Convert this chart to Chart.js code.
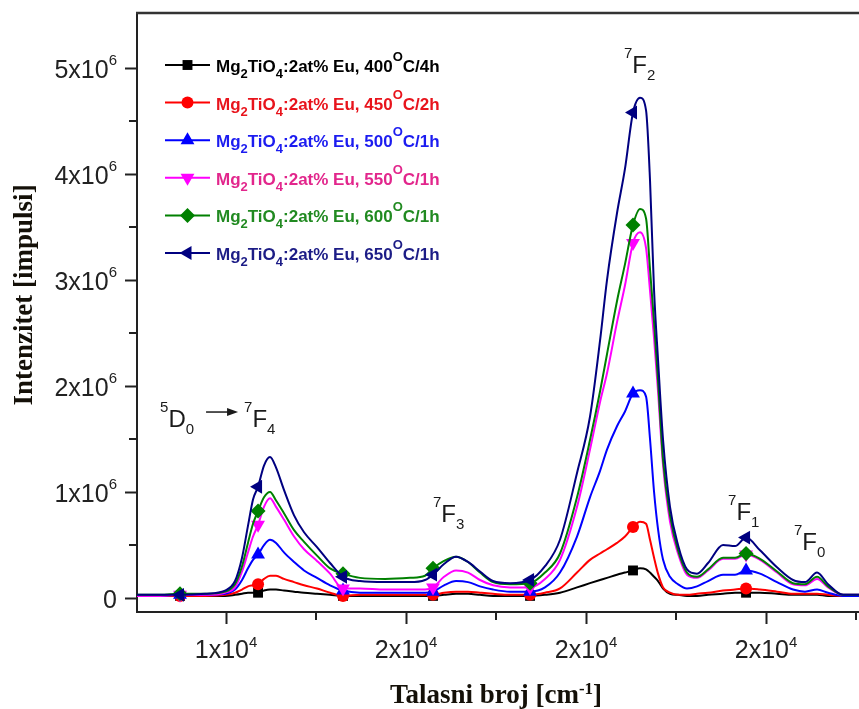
<!DOCTYPE html>
<html>
<head>
<meta charset="utf-8">
<script src="https://cdn.jsdelivr.net/npm/chart.js@4.4.1/dist/chart.umd.min.js"></script>
<style>
  html, body { margin: 0; padding: 0; background: #fff; }
  #wrap { width: 859px; height: 709px; }
</style>
</head>
<body>
<div id="wrap"><canvas id="spectrum"></canvas></div>
<script>
// wavenumber of each sample point [cm-1]
const wavenumber = [13011, 13267, 13489, 13767, 13989, 14100, 14178, 14244, 14300, 14356,
  14422, 14489, 14556, 14644, 14756, 14867, 15011, 15156, 15300, 15489,
  15767, 16044, 16211, 16300, 16422, 16556, 16689, 16822, 16967, 17156,
  17378, 17544, 17711, 17900, 18044, 18156, 18233, 18344, 18433, 18522,
  18600, 18667, 18711, 18756, 18800, 18856, 18933, 19022, 19122, 19233,
  19356, 19522, 19656, 19778, 19933, 20122, 20300, 20433, 20567, 20689,
  20856, 21033];

// intensities, in units of 10^6 counts
const s400 = [0.02, 0.02, 0.02, 0.02, 0.02, 0.03, 0.04, 0.05, 0.05, 0.05,
  0.07, 0.08, 0.08, 0.07, 0.06, 0.05, 0.04, 0.03, 0.02, 0.02,
  0.02, 0.02, 0.02, 0.02, 0.03, 0.04, 0.04, 0.03, 0.02, 0.02,
  0.02, 0.03, 0.05, 0.10, 0.14, 0.17, 0.19, 0.22, 0.24, 0.26,
  0.28, 0.27, 0.24, 0.20, 0.16, 0.09, 0.04, 0.03, 0.02, 0.02,
  0.03, 0.04, 0.05, 0.05, 0.05, 0.04, 0.03, 0.03, 0.03, 0.02,
  0.02, 0.02];
const s450 = [0.02, 0.02, 0.02, 0.02, 0.03, 0.05, 0.08, 0.11, 0.12, 0.13,
  0.18, 0.21, 0.21, 0.18, 0.15, 0.12, 0.09, 0.05, 0.02, 0.03,
  0.03, 0.03, 0.03, 0.03, 0.05, 0.06, 0.06, 0.05, 0.04, 0.03,
  0.03, 0.05, 0.09, 0.24, 0.36, 0.42, 0.46, 0.52, 0.58, 0.67,
  0.72, 0.70, 0.55, 0.38, 0.23, 0.10, 0.05, 0.03, 0.03, 0.04,
  0.05, 0.07, 0.08, 0.09, 0.08, 0.06, 0.04, 0.04, 0.04, 0.03,
  0.02, 0.02];
const s500 = [0.02, 0.02, 0.03, 0.03, 0.04, 0.08, 0.17, 0.28, 0.36, 0.41,
  0.50, 0.55, 0.52, 0.43, 0.34, 0.26, 0.19, 0.12, 0.07, 0.05,
  0.05, 0.05, 0.05, 0.06, 0.12, 0.16, 0.15, 0.11, 0.08, 0.06,
  0.06, 0.10, 0.24, 0.58, 0.95, 1.20, 1.40, 1.62, 1.76, 1.93,
  1.96, 1.90, 1.50, 1.00, 0.65, 0.36, 0.20, 0.13, 0.09, 0.11,
  0.16, 0.22, 0.22, 0.26, 0.23, 0.15, 0.08, 0.06, 0.08, 0.05,
  0.02, 0.02];
const s550 = [0.02, 0.02, 0.03, 0.03, 0.05, 0.10, 0.25, 0.43, 0.58, 0.69,
  0.86, 0.94, 0.86, 0.74, 0.58, 0.46, 0.35, 0.23, 0.09, 0.09,
  0.08, 0.08, 0.08, 0.10, 0.20, 0.26, 0.24, 0.17, 0.12, 0.10,
  0.10, 0.18, 0.36, 0.86, 1.40, 1.85, 2.12, 2.60, 2.95, 3.35,
  3.45, 3.30, 2.90, 2.45, 1.95, 1.25, 0.72, 0.42, 0.22, 0.19,
  0.26, 0.37, 0.37, 0.41, 0.36, 0.24, 0.13, 0.12, 0.18, 0.10,
  0.03, 0.03];
const s600 = [0.03, 0.03, 0.04, 0.04, 0.06, 0.13, 0.30, 0.52, 0.70, 0.82,
  0.95, 1.00, 0.92, 0.80, 0.64, 0.53, 0.40, 0.28, 0.23, 0.19,
  0.18, 0.19, 0.21, 0.28, 0.35, 0.39, 0.34, 0.24, 0.15, 0.13,
  0.14, 0.24, 0.42, 0.95, 1.49, 1.95, 2.30, 2.80, 3.15, 3.52,
  3.67, 3.58, 3.10, 2.60, 2.05, 1.30, 0.78, 0.45, 0.24, 0.20,
  0.27, 0.38, 0.38, 0.42, 0.37, 0.25, 0.14, 0.13, 0.20, 0.11,
  0.03, 0.03];
const s650 = [0.03, 0.03, 0.03, 0.04, 0.07, 0.16, 0.38, 0.68, 0.93, 1.05,
  1.25, 1.33, 1.23, 1.02, 0.78, 0.62, 0.48, 0.33, 0.20, 0.16,
  0.15, 0.15, 0.17, 0.22, 0.32, 0.39, 0.34, 0.25, 0.16, 0.14,
  0.17, 0.30, 0.55, 1.18, 1.71, 2.43, 3.00, 3.63, 4.05, 4.58,
  4.72, 4.60, 3.94, 2.90, 2.25, 1.49, 0.86, 0.50, 0.27, 0.23,
  0.33, 0.50, 0.49, 0.57, 0.45, 0.29, 0.17, 0.15, 0.24, 0.13,
  0.03, 0.03];

// which sample points carry a symbol
const markerIdx = [2, 9, 18, 23, 30, 39, 53];

// _x = subscript, ^x = superscript, {..} groups several chars
const seriesNames = [
  "Mg_2TiO_4:2at% Eu, 400^OC/4h",
  "Mg_2TiO_4:2at% Eu, 450^OC/2h",
  "Mg_2TiO_4:2at% Eu, 500^OC/1h",
  "Mg_2TiO_4:2at% Eu, 550^OC/1h",
  "Mg_2TiO_4:2at% Eu, 600^OC/1h",
  "Mg_2TiO_4:2at% Eu, 650^OC/1h"
];
const seriesValues = [s400, s450, s500, s550, s600, s650];

const xMajorTicks = [14000, 16000, 18000, 20000];
const xTickLabels = ["1x10^4", "2x10^4", "2x10^4", "2x10^4"];
const xMinorTicks = [15000, 17000, 19000, 21000];
const yMajorTicks = [0, 1, 2, 3, 4, 5];
const yTickLabels = ["0", "1x10^6", "2x10^6", "3x10^6", "4x10^6", "5x10^6"];
const yMinorTicks = [0.5, 1.5, 2.5, 3.5, 4.5];

// transition labels, anchored (left, baseline) in data units
const peakLabels = [
  { x: 13267, y: 1.613, text: "^5D_0->^7F_4" },
  { x: 16300, y: 0.717, text: "^7F_3" },
  { x: 18422, y: 4.953, text: "^7F_2" },
  { x: 19578, y: 0.736, text: "^7F_1" },
  { x: 20311, y: 0.453, text: "^7F_0" }
];

const xTitle = "Talasni broj [cm^{-1}]";
const yTitle = "Intenzitet [impulsi]";

// styling
const lineColors = ["#000000", "#ff0000", "#0000ff", "#ff00ff", "#008000", "#000080"];
const textColors = ["#000000", "#e8141c", "#1c1cf0", "#e2268c", "#218a21", "#1c1c86"];
const pointStyles = ["rect", "circle", "triangle", "triangle", "rectRot", "triangle"];
const pointRotations = [0, 0, 0, 180, 0, -90];
const pointSizes = [7, 6, 8, 8, 7.5, 8];
const AXIS = "#222";
const SANS = '"Liberation Sans", Arial, sans-serif';
const SERIF = '"Liberation Serif", "Times New Roman", serif';

function parseRich(str) {
  const parts = [];
  const re = /->|([_^])\{([^}]*)\}|([_^])(.)|([^_^\-]+|-)/g;
  let m;
  while ((m = re.exec(str)) !== null) {
    if (m[0] === "->") parts.push({ arrow: true });
    else if (m[1]) parts.push({ t: m[2], s: m[1] === "^" ? "sup" : "sub" });
    else if (m[3]) parts.push({ t: m[4], s: m[3] === "^" ? "sup" : "sub" });
    else parts.push({ t: m[5] });
  }
  return parts;
}

const ARROW_W = 50;

function richWidth(ctx, parts, big, small) {
  let w = 0;
  for (const p of parts) {
    if (p.arrow) { w += ARROW_W; continue; }
    ctx.font = p.s ? small : big;
    w += ctx.measureText(p.t).width;
  }
  return w;
}

function drawRich(ctx, x, y, str, big, small, supDy, subDy) {
  for (const p of parseRich(str)) {
    if (p.arrow) {
      const y0 = y - 15, x0 = x + 12, x1 = x + ARROW_W - 6;
      ctx.beginPath();
      ctx.moveTo(x0, y0);
      ctx.lineTo(x1 - 9, y0);
      ctx.lineWidth = 1.5;
      ctx.strokeStyle = ctx.fillStyle;
      ctx.stroke();
      ctx.beginPath();
      ctx.moveTo(x1, y0);
      ctx.lineTo(x1 - 11, y0 - 4);
      ctx.lineTo(x1 - 11, y0 + 4);
      ctx.closePath();
      ctx.fill();
      x += ARROW_W;
      continue;
    }
    ctx.font = p.s ? small : big;
    const dy = p.s === "sup" ? supDy : p.s === "sub" ? subDy : 0;
    ctx.fillText(p.t, x, y + dy);
    x += ctx.measureText(p.t).width;
  }
}

function drawMarker(ctx, style, rotation, r, x, y) {
  let rad = rotation * Math.PI / 180;
  ctx.beginPath();
  if (style === "circle") {
    ctx.arc(x, y, r, 0, Math.PI * 2);
  } else if (style === "rect") {
    const h = r * Math.SQRT1_2;
    ctx.rect(x - h, y - h, 2 * h, 2 * h);
  } else if (style === "rectRot") {
    ctx.moveTo(x, y - r); ctx.lineTo(x + r, y); ctx.lineTo(x, y + r); ctx.lineTo(x - r, y);
  } else {
    for (let k = 0; k < 3; k++) {
      const a = rad + k * 2 * Math.PI / 3;
      const px = x + Math.sin(a) * r, py = y - Math.cos(a) * r;
      if (k === 0) ctx.moveTo(px, py); else ctx.lineTo(px, py);
    }
  }
  ctx.closePath();
  ctx.fill();
}

const decor = {
  id: "decor",
  afterDraw(chart) {
    const ctx = chart.ctx;
    const area = chart.chartArea;
    const xs = chart.scales.x, ys = chart.scales.y;
    ctx.save();

    // top frame line
    ctx.strokeStyle = "#333";
    ctx.lineWidth = 2.5;
    ctx.beginPath();
    ctx.moveTo(area.left - 1, area.top);
    ctx.lineTo(chart.width, area.top);
    ctx.stroke();

    // minor ticks
    ctx.strokeStyle = AXIS;
    ctx.lineWidth = 2;
    ctx.beginPath();
    for (const v of xMinorTicks) {
      const px = Math.round(xs.getPixelForValue(v));
      ctx.moveTo(px, area.bottom);
      ctx.lineTo(px, area.bottom + 8);
    }
    for (const v of yMinorTicks) {
      const py = Math.round(ys.getPixelForValue(v));
      ctx.moveTo(area.left, py);
      ctx.lineTo(area.left - 8, py);
    }
    ctx.stroke();

    // tick labels
    ctx.fillStyle = AXIS;
    ctx.textBaseline = "alphabetic";
    ctx.textAlign = "left";
    const tBig = "25px " + SANS, tSmall = "15px " + SANS;
    yMajorTicks.forEach((v, i) => {
      const parts = parseRich(yTickLabels[i]);
      const w = richWidth(ctx, parts, tBig, tSmall);
      const py = ys.getPixelForValue(v);
      drawRich(ctx, area.left - 20 - w, py + 10, yTickLabels[i], tBig, tSmall, -13, 5);
    });
    xMajorTicks.forEach((v, i) => {
      const parts = parseRich(xTickLabels[i]);
      const w = richWidth(ctx, parts, tBig, tSmall);
      const px = xs.getPixelForValue(v);
      drawRich(ctx, px - w / 2, 658, xTickLabels[i], tBig, tSmall, -11, 5);
    });

    // axis titles
    ctx.fillStyle = "#141008";
    const hBig = "bold 27px " + SERIF, hSmall = "bold 17px " + SERIF;
    const xw = richWidth(ctx, parseRich(xTitle), hBig, hSmall);
    drawRich(ctx, (area.left + area.right) / 2 - xw / 2 - 2, 703, xTitle, hBig, hSmall, -9, 5);
    ctx.save();
    ctx.translate(32, 295);
    ctx.rotate(-Math.PI / 2);
    ctx.font = hBig;
    ctx.textAlign = "center";
    ctx.fillText(yTitle, 0, 0);
    ctx.restore();

    // transition labels
    ctx.fillStyle = "#1a1a1a";
    const aBig = "24px " + SANS, aSmall = "15px " + SANS;
    for (const lab of peakLabels) {
      drawRich(ctx, xs.getPixelForValue(lab.x), ys.getPixelForValue(lab.y),
        lab.text, aBig, aSmall, -15, 7);
    }

    // legend
    const lBig = "bold 17px " + SANS, lSmall = "bold 13px " + SANS;
    seriesNames.forEach((name, i) => {
      const cy = 65 + i * 37.6;
      ctx.strokeStyle = lineColors[i];
      ctx.fillStyle = lineColors[i];
      ctx.lineWidth = 2;
      ctx.beginPath();
      ctx.moveTo(165, cy);
      ctx.lineTo(210, cy);
      ctx.stroke();
      drawMarker(ctx, pointStyles[i], pointRotations[i], pointSizes[i], 187.5, cy);
      ctx.fillStyle = textColors[i];
      drawRich(ctx, 216, cy + 7, name, lBig, lSmall, -11, 6);
    });

    ctx.restore();
  }
};

function tickBuilder(major, minor) {
  return function (scale) {
    scale.ticks = major.map(v => ({ value: v, major: true }))
      .concat(minor.map(v => ({ value: v, major: false })))
      .sort((a, b) => a.value - b.value);
  };
}

const datasets = seriesValues.map((vals, i) => ({
  label: seriesNames[i],
  data: wavenumber.map((x, k) => ({ x: x, y: vals[k] })),
  borderColor: lineColors[i],
  backgroundColor: lineColors[i],
  borderWidth: 2,
  pointStyle: pointStyles[i],
  pointRotation: pointRotations[i],
  pointRadius: ctx => markerIdx.includes(ctx.dataIndex) ? pointSizes[i] : 0,
  pointBorderWidth: 0,
  pointHoverRadius: 0,
  cubicInterpolationMode: "monotone",
  order: seriesValues.length - i
}));

const gridOpts = {
  drawOnChartArea: false,
  drawTicks: true,
  tickLength: 12,
  tickWidth: 2,
  tickColor: c => (c.tick && c.tick.major ? AXIS : "rgba(0,0,0,0)")
};

new Chart(document.getElementById("spectrum"), {
  type: "line",
  data: { datasets: datasets },
  options: {
    responsive: true,
    maintainAspectRatio: false,
    animation: false,
    layout: { padding: { top: 13, right: 0, bottom: 0, left: 0 } },
    plugins: { legend: { display: false }, tooltip: { enabled: false } },
    scales: {
      x: {
        type: "linear",
        min: 13011,
        max: 21033,
        afterBuildTicks: tickBuilder(xMajorTicks, xMinorTicks),
        afterFit: s => { s.height = 97; },
        ticks: { display: false },
        grid: gridOpts,
        border: { display: true, color: AXIS, width: 2 }
      },
      y: {
        type: "linear",
        min: -0.132,
        max: 5.519,
        afterBuildTicks: tickBuilder(yMajorTicks, yMinorTicks),
        afterFit: s => { s.width = 137; },
        ticks: { display: false },
        grid: gridOpts,
        border: { display: true, color: AXIS, width: 2 }
      }
    }
  },
  plugins: [decor]
});
</script>
</body>
</html>
